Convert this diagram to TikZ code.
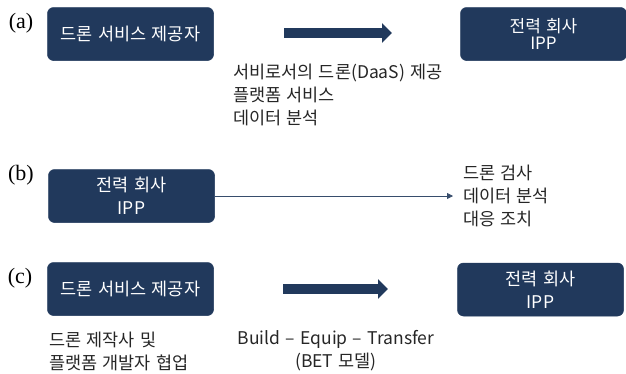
\documentclass[tikz,border=0pt]{standalone}
\usepackage{fontspec}
\newfontfamily\krfont{Noto Sans CJK KR}[WordSpace=1.35]
\newfontfamily\tagfont{Liberation Serif}
\usepackage{tikz}
\usetikzlibrary{
    arrows.meta,
    positioning
}
\definecolor{boxnavy}{RGB}{33,57,92}

\begin{document}
\begin{tikzpicture}[x=1pt, y=1pt,
    font=\krfont\fontsize{17.5}{23}\selectfont,
    box/.style={
        rectangle,
        rounded corners=6pt,
        draw=boxnavy,
        fill=boxnavy,
        text=white,
        line width=0.5pt,
        align=center,
        inner sep=0pt,
        minimum height=53pt,
        minimum width=166pt
    },
    note/.style={
        align=left,
        inner sep=0pt,
        text=black!85
    },
    tag/.style={
        font=\tagfont\fontsize{22}{26}\selectfont,
        inner sep=0pt
    },
    fatarrow/.style={-{Triangle[length=10pt, width=19pt]}, line width=10pt, boxnavy},
    thinarrow/.style={-{Triangle[length=6pt, width=6pt]}, line width=0.8pt, boxnavy!90}
]
\useasboundingbox (0,0) rectangle (626,-373);

% ===== ROW (a) =====
\node[tag] (taga) at (21,-23) {(a)};
\node[box] (provA) at (130.5,-34) {드론 서비스 제공자};
\node[box, font=\krfont\fontsize{17}{17.5}\selectfont] (ippA) at (543.5,-34) {전력 회사\\IPP};
\coordinate (arrAs) at (284,-33);
\coordinate (arrAe) at (392,-33);
\draw[fatarrow] (arrAs) -- (arrAe);
\node[note, anchor=west] (noteA) at (233,-94.5) {서비로서의 드론(DaaS) 제공\\플랫폼 서비스\\데이터 분석};

% ===== ROW (b) =====
\node[tag] (tagb) at (21,-175) {(b)};
\node[box] (ippB) at (131.5,-196) {전력 회사\\IPP};
\coordinate (arrBe) at (453,-196);
\draw[thinarrow] (ippB.east) -- (arrBe);
\node[note, anchor=west, right=10pt of arrBe] (noteB) {드론 검사\\데이터 분석\\대응 조치};

% ===== ROW (c) =====
\node[tag] (tagc) at (20,-278) {(c)};
\node[box] (provC) at (130.5,-289) {드론 서비스 제공자};
\node[box] (ippC) at (540.5,-289.5) {전력 회사\\IPP};
\coordinate (arrCs) at (283,-289);
\coordinate (arrCe) at (388,-289);
\draw[fatarrow] (arrCs) -- (arrCe);
\node[note, anchor=west] (noteC) at (49,-351) {드론 제작사 및\\플랫폼 개발자 협업};
\node[note, align=center] (betC) at (336,-351) {Build – Equip – Transfer\\(BET 모델)};

\end{tikzpicture}
\end{document}
